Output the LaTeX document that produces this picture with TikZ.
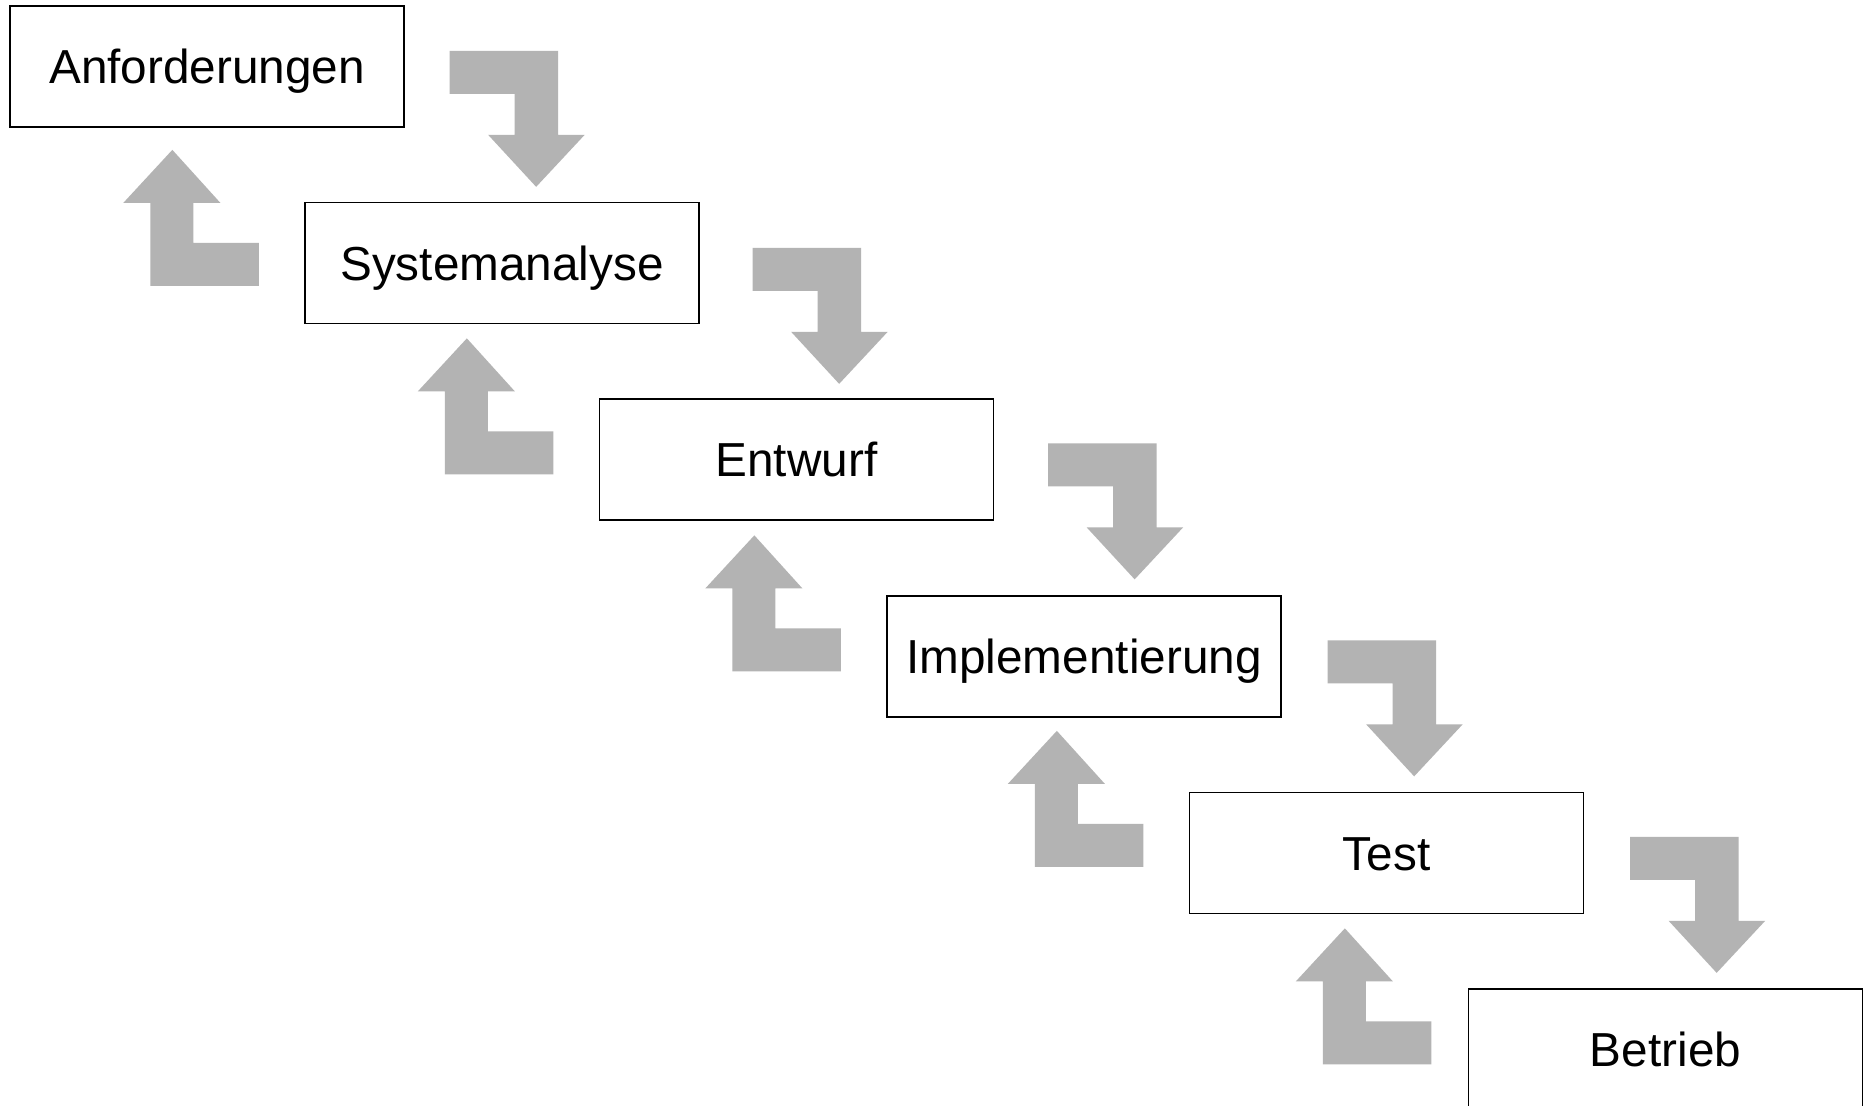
\documentclass[tikz,border=0pt]{standalone}
\usepackage{fontspec}
\setmainfont{Liberation Sans}
\usetikzlibrary{calc}
\definecolor{arrowgray}{RGB}{179,179,179}
\tikzset{
  phasebox/.style={draw=black, line width=1.3pt, fill=white,
    minimum width=394pt, minimum height=121pt, inner sep=0pt,
    text height=34pt, text depth=0pt,
    font=\fontsize{47.7}{57}\selectfont},
  downarr/.pic={\fill[arrowgray] (0,0) -- (108.5,0) -- (108.5,84) -- (135,84)
     -- (86.5,136) -- (38.5,84) -- (65,84) -- (65,43) -- (0,43) -- cycle;},
  uparr/.pic={\fill[arrowgray] (0,0) -- (48,53) -- (21,53) -- (21,93)
     -- (86.5,93) -- (86.5,136) -- (-22,136) -- (-22,53) -- (-49,53) -- cycle;}
}
\begin{document}
\begin{tikzpicture}[x=1pt,y=-1pt]
\useasboundingbox (0,0) rectangle (1864,1106);
\fill[white] (0,0) rectangle (1864,1106);
\clip (0,0) rectangle (1864,1106);
% phase boxes
\node[phasebox] (A) at (207,66.5) {Anforderungen};
\node[phasebox] (S) at (502,263) {Systemanalyse};
\node[phasebox] (E) at (796.5,459.5) {Entwurf};
\node[phasebox] (I) at (1084,656.5) {Implementierung};
\node[phasebox] (T) at (1386.5,853) {Test};
\node[phasebox] (B) at (1665.5,1049.5) {Betrieb};
% forward (down) block arrows, placed from the box corners
\pic at ($(A.north east)+(45,45.5)$) {downarr};
\pic at ($(S.north east)+(53,46)$) {downarr};
\pic at ($(E.north east)+(54,45)$) {downarr};
\pic at ($(I.north east)+(46,45)$) {downarr};
\pic at ($(T.north east)+(46,45)$) {downarr};
% backward (up) block arrows
\pic at ($(S.north west)+(-132,-52)$) {uparr};
\pic at ($(E.north west)+(-132,-60)$) {uparr};
\pic at ($(I.north west)+(-132,-60)$) {uparr};
\pic at ($(T.north west)+(-132,-61)$) {uparr};
\pic at ($(B.north west)+(-123,-60)$) {uparr};
\end{tikzpicture}
\end{document}
